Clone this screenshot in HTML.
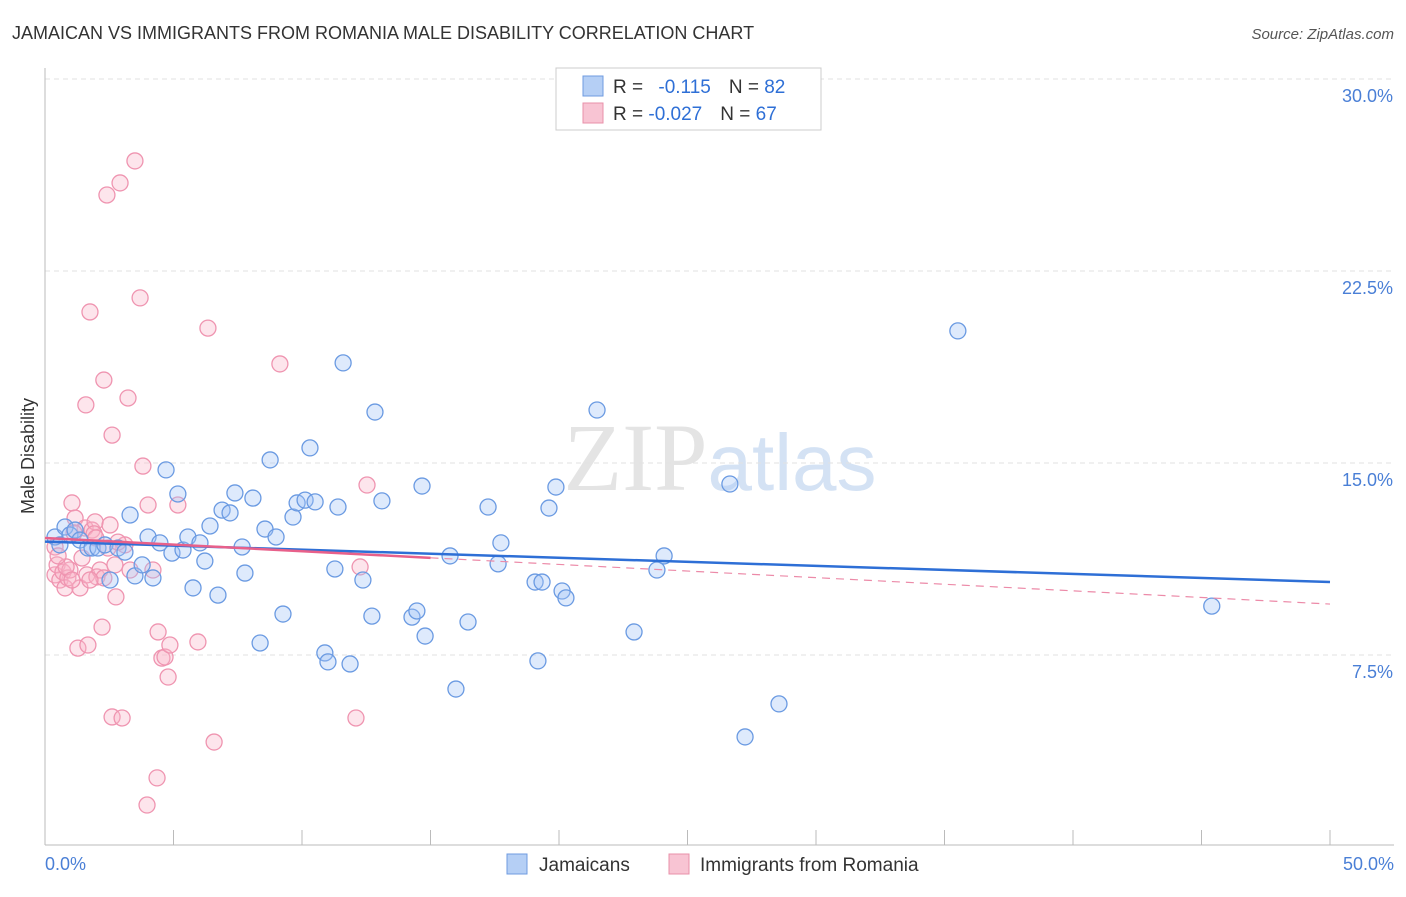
<!DOCTYPE html>
<html><head><meta charset="utf-8"><style>
body{margin:0;background:#fff;font-family:"Liberation Sans",sans-serif}
svg text{font-family:"Liberation Sans",sans-serif}
</style></head><body>
<svg id="chart" width="1406" height="892" xmlns="http://www.w3.org/2000/svg">
<text x="12" y="39" font-size="18" fill="#333">JAMAICAN VS IMMIGRANTS FROM ROMANIA MALE DISABILITY CORRELATION CHART</text>
<text x="1394" y="39" font-size="15" fill="#555" text-anchor="end" font-style="italic">Source: ZipAtlas.com</text>
<text x="720" y="490" font-size="96" text-anchor="middle" fill="#e4e4e4"><tspan font-family="Liberation Serif">ZIP</tspan><tspan fill="#d4e2f4" font-size="80">atlas</tspan></text>
<g id="grid"></g>
<g id="axes"></g>
<g id="marks"></g>
<text transform="translate(34,456) rotate(-90)" font-size="18" fill="#333" text-anchor="middle">Male Disability</text>
<g>
<rect x="556" y="68" width="265" height="62" fill="#fff" stroke="#ccc"/>
<rect x="583" y="76" width="20" height="20" fill="#b5cff5" stroke="#6f9be0"/>
<text x="613" y="93" font-size="19" fill="#333">R = <tspan fill="#2e6fd6" dx="10">-0.115</tspan><tspan dx="18">N = </tspan><tspan fill="#2e6fd6">82</tspan></text>
<rect x="583" y="103" width="20" height="20" fill="#f8c4d3" stroke="#e890aa"/>
<text x="613" y="120" font-size="19" fill="#333">R = <tspan fill="#2e6fd6">-0.027</tspan><tspan dx="18">N = </tspan><tspan fill="#2e6fd6">67</tspan></text>
</g>
<g>
<rect x="507" y="854" width="20" height="20" fill="#b5cff5" stroke="#6f9be0"/>
<text x="539" y="871" font-size="19" fill="#333">Jamaicans</text>
<rect x="669" y="854" width="20" height="20" fill="#f8c4d3" stroke="#e890aa"/>
<text x="700" y="871" font-size="19" fill="#333">Immigrants from Romania</text>
</g>
</svg>
<script>
const yTicks=[7.5,15,22.5,30];
const yTickLabels=["7.5%","15.0%","22.5%","30.0%"];
const xTickLabels=["0.0%","50.0%"];
const blueX=[0.39,0.58,0.78,0.97,1.17,1.36,1.67,1.83,2.06,2.33,2.53,2.84,3.11,3.31,3.50,3.78,4.01,4.20,4.47,4.71,4.94,5.17,5.37,5.56,5.76,6.03,6.22,6.42,6.73,6.89,7.20,7.39,7.67,7.78,8.09,8.37,8.56,8.76,8.99,9.26,9.65,9.81,10.12,10.31,10.51,10.89,11.01,11.28,11.40,11.60,11.87,12.37,12.72,12.84,13.11,14.28,14.47,14.79,14.67,15.76,15.99,16.46,17.24,17.63,17.74,19.07,19.18,19.34,19.61,19.88,20.12,20.27,21.48,22.92,23.81,24.09,26.65,27.24,28.56,35.52,45.40];
const blueY=[12.11,11.80,12.50,12.19,12.38,11.99,11.68,11.68,11.68,11.80,10.43,11.68,11.52,12.97,10.59,11.02,12.11,10.51,11.88,14.73,11.48,13.79,11.60,12.11,10.12,11.88,11.17,12.54,9.84,13.16,13.05,13.83,11.72,10.70,13.63,7.97,12.42,15.12,12.11,9.10,12.89,13.44,13.55,15.59,13.48,7.58,7.23,10.86,13.28,18.91,7.15,10.43,9.02,16.99,13.52,8.98,9.22,8.24,14.10,11.37,6.17,8.79,13.28,11.06,11.88,10.35,7.27,10.35,13.24,14.06,10.00,9.73,17.07,8.40,10.82,11.37,14.18,4.30,5.59,20.16,9.41];
const pinkX=[0.39,0.39,0.47,0.58,0.70,0.78,0.89,0.97,1.05,1.17,1.28,1.36,1.44,1.56,1.63,1.67,1.75,1.83,1.95,2.02,2.14,2.22,2.29,2.41,2.45,2.53,2.61,2.61,2.72,2.76,2.92,3.00,3.11,3.23,3.50,3.70,3.81,4.01,4.20,4.36,3.97,4.40,4.55,4.67,4.79,4.86,5.17,5.95,6.34,6.58,9.14,12.10,12.26,12.53,2.29,1.59,0.82,1.13,1.91,2.84,3.31,1.98,0.51,1.05,1.75];
const pinkY=[11.72,10.63,11.02,10.43,10.74,10.12,10.51,10.82,13.44,12.85,7.77,10.12,11.29,12.46,10.63,7.89,20.90,12.38,12.70,10.55,10.82,8.59,10.51,25.47,11.68,12.58,16.09,5.08,11.02,9.77,25.94,5.04,11.80,17.54,26.80,21.45,14.88,13.36,10.82,2.70,1.64,8.40,7.38,7.42,6.64,7.89,13.36,8.01,20.27,4.10,18.87,5.04,10.94,14.14,18.24,17.27,10.94,12.27,12.23,11.91,10.82,12.07,11.37,10.43,10.43];
const L=45,R=1330,T=79,B=847;
const xs=v=>L+v/50*(R-L), ys=v=>B-v/30*(B-T);
const NS="http://www.w3.org/2000/svg";
function mk(tag,attrs,parent){const e=document.createElementNS(NS,tag);for(const k in attrs)e.setAttribute(k,attrs[k]);document.getElementById(parent).appendChild(e);return e;}
yTicks.forEach((t,i)=>{
 const g=mk('line',{x1:L,x2:1394,y1:ys(t),y2:ys(t),stroke:'#e2e2e2','stroke-dasharray':'5,4'},'grid');
 
 
 const tx=mk('text',{x:1393,y:ys(t)+23,'font-size':18,fill:'#4a7fd6','text-anchor':'end'},'axes');
 tx.textContent=yTickLabels[i];
 
 
});
let ax=mk('line',{x1:L,x2:L,y1:68,y2:845,stroke:'#bbb'},'axes');

ax=mk('line',{x1:L,x2:1394,y1:845,y2:845,stroke:'#bbb'},'axes');

for(let i=0;i<=10;i++){const tk=mk('line',{x1:xs(i*5),x2:xs(i*5),y1:830,y2:845,stroke:'#bbb'},'axes');
 
 }
[[0,'start',45],[50,'end',1394]].forEach((a,i)=>{const t=mk('text',{x:a[2],y:870,'font-size':18,fill:'#4a7fd6','text-anchor':a[1]},'axes');t.textContent=xTickLabels[i];
 
 });
pinkX.forEach((x,i)=>{const c=mk('circle',{cx:xs(x),cy:ys(pinkY[i]),r:8,fill:'rgba(248,180,200,0.35)',stroke:'#ef94b0','stroke-width':1.3},'marks');
 
 });
blueX.forEach((x,i)=>{const c=mk('circle',{cx:xs(x),cy:ys(blueY[i]),r:8,fill:'rgba(160,195,245,0.35)',stroke:'#6a9ae2','stroke-width':1.3},'marks');
 
 });
const blueTrend=[11.93,10.35], pinkTrend=[12.07,9.49], pinkSolidEnd=15;
let l=mk('line',{x1:xs(0),y1:ys(blueTrend[0]),x2:xs(50),y2:ys(blueTrend[1]),stroke:'#2e6fd6','stroke-width':2.5},'marks');

const pAt=x=>pinkTrend[0]+(pinkTrend[1]-pinkTrend[0])*x/50;
l=mk('line',{x1:xs(0),y1:ys(pAt(0)),x2:xs(pinkSolidEnd),y2:ys(pAt(pinkSolidEnd)),stroke:'#e8608a','stroke-width':2.5},'marks');

l=mk('line',{x1:xs(pinkSolidEnd),y1:ys(pAt(pinkSolidEnd)),x2:xs(50),y2:ys(pAt(50)),stroke:'#ec8aa8','stroke-width':1.2,'stroke-dasharray':'8,6'},'marks');

</script>
</body></html>
